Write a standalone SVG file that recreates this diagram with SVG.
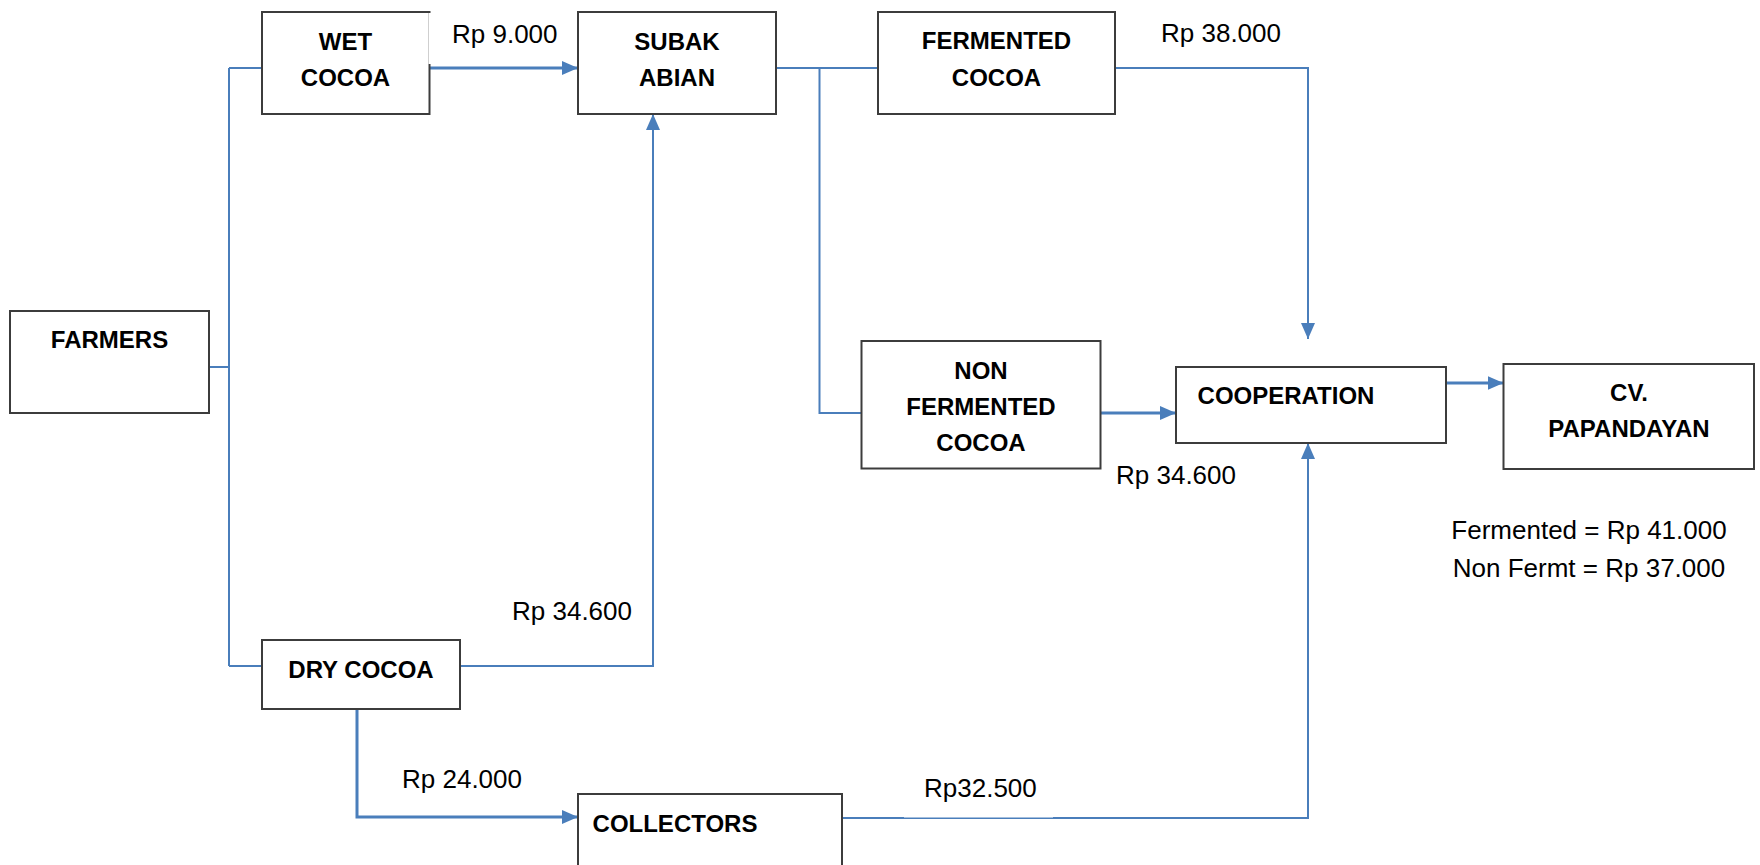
<svg xmlns="http://www.w3.org/2000/svg" width="1760" height="865" viewBox="0 0 1760 865">
  <style>
    .box { fill: #ffffff; stroke: #3c3c3c; stroke-width: 2; }
    .node { font-family: "Liberation Sans", Arial, sans-serif; font-weight: bold; font-size: 24px; fill: #000; text-anchor: middle; }
    .price { font-family: "Liberation Sans", Arial, sans-serif; font-size: 26px; fill: #000; }
    .link { fill: none; stroke: #4a7ebb; stroke-width: 2; }
    .link.thick { stroke-width: 3; }
  </style>
  <defs>
    <marker id="arrow" markerUnits="userSpaceOnUse" markerWidth="16" markerHeight="14" refX="16" refY="7" orient="auto">
      <path d="M0,0 L16,7 L0,14 z" fill="#4a7ebb"/>
    </marker>
  </defs>

  <rect width="1760" height="865" fill="#ffffff"/>

  <!-- connectors -->
  <g id="connectors">
    <path class="link" d="M209,367 H229 M229,68 V666 M229,68 H262 M229,666 H262"/>
    <path class="link thick" d="M430,68 H578" marker-end="url(#arrow)"/>
    <path class="link" d="M460,666 H653 V114" marker-end="url(#arrow)"/>
    <path class="link" d="M776,68 H894"/>
    <path class="link" d="M819.5,68 V413 H861.5"/>
    <path class="link" d="M1115,68 H1308 V339" marker-end="url(#arrow)"/>
    <path class="link thick" d="M1100.5,413 H1176" marker-end="url(#arrow)"/>
    <path class="link thick" d="M1446,383 H1503.5" marker-end="url(#arrow)"/>
    <path class="link thick" d="M357,709 V817 H578" marker-end="url(#arrow)"/>
    <path class="link" d="M842,818 H1308 V443" marker-end="url(#arrow)"/>
  </g>

  <!-- nodes -->
  <g id="farmers">
    <rect class="box" x="10" y="311" width="199" height="102"/>
    <text class="node" x="109.5" y="348">FARMERS</text>
  </g>
  <g id="wet-cocoa">
    <rect class="box" x="262" y="12" width="167.5" height="102"/>
    <text class="node" x="345.5" y="50">WET</text>
    <text class="node" x="345.5" y="86">COCOA</text>
  </g>
  <g id="subak-abian">
    <rect class="box" x="578" y="12" width="198" height="102"/>
    <text class="node" x="677" y="50">SUBAK</text>
    <text class="node" x="677" y="86">ABIAN</text>
  </g>
  <g id="fermented-cocoa">
    <rect class="box" x="878" y="12" width="237" height="102"/>
    <text class="node" x="996.5" y="49">FERMENTED</text>
    <text class="node" x="996.5" y="86">COCOA</text>
  </g>
  <g id="non-fermented-cocoa">
    <rect class="box" x="861.5" y="341" width="239" height="127.5"/>
    <text class="node" x="981" y="379">NON</text>
    <text class="node" x="981" y="415">FERMENTED</text>
    <text class="node" x="981" y="451">COCOA</text>
  </g>
  <g id="cooperation">
    <rect class="box" x="1176" y="367" width="270" height="76"/>
    <text class="node" x="1286" y="404">COOPERATION</text>
  </g>
  <g id="cv-papandayan">
    <rect class="box" x="1503.5" y="364" width="250.5" height="105"/>
    <text class="node" x="1629" y="401">CV.</text>
    <text class="node" x="1629" y="437">PAPANDAYAN</text>
  </g>
  <g id="dry-cocoa">
    <rect class="box" x="262" y="640" width="198" height="69"/>
    <text class="node" x="361" y="678">DRY COCOA</text>
  </g>
  <g id="collectors">
    <rect class="box" x="578" y="794" width="264" height="80"/>
    <text class="node" x="675" y="832">COLLECTORS</text>
  </g>

  <!-- price labels (text boxes with white fill) -->
  <g id="labels">
    <rect x="428.5" y="13" width="130" height="51" fill="#ffffff"/>
    <text class="price" x="452" y="43">Rp 9.000</text>
    <text class="price" x="1161" y="42">Rp 38.000</text>
    <text class="price" x="512" y="620">Rp 34.600</text>
    <text class="price" x="402" y="788">Rp 24.000</text>
    <rect x="904" y="770" width="149" height="47.5" fill="#ffffff"/>
    <text class="price" x="924" y="797">Rp32.500</text>
    <text class="price" x="1116" y="484">Rp 34.600</text>
    <text class="price" x="1589" y="539" text-anchor="middle">Fermented = Rp 41.000</text>
    <text class="price" x="1589" y="577" text-anchor="middle">Non Fermt = Rp 37.000</text>
  </g>
</svg>
